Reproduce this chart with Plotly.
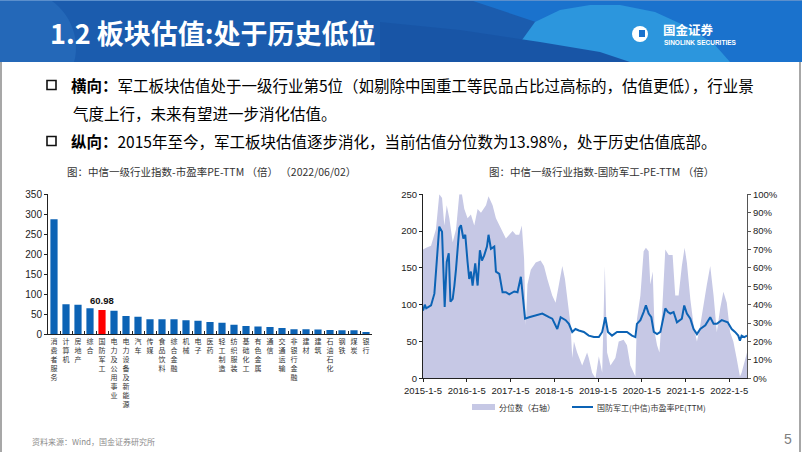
import math
import plotly.graph_objects as go

W, H = 802, 452

# ---- left chart: PE-TTM by industry (2022/06/02)
industries = ["消费者服务", "计算机", "房地产", "综合", "国防军工", "电力及公用事业",
              "电力设备及新能源", "汽车", "传媒", "食品饮料", "综合金融", "机械", "电子",
              "医药", "轻工制造", "纺织服装", "基础化工", "有色金属", "通信", "交通运输",
              "非银行金融", "建材", "建筑", "石油石化", "钢铁", "煤炭", "银行"]
pe_ttm = [287.5, 75, 74, 65, 60.98, 59, 46, 44, 37.5, 37.5, 37.5, 35, 34,
          31, 29, 24, 21, 19.5, 18, 16, 12.8, 12.5, 11.7, 11, 10, 10, 6]
highlight = "国防军工"

# ---- right chart: defence PE history and its percentile
pe_dates = ["2015-01-05", "2015-01-20", "2015-02-01", "2015-02-20", "2015-03-13", "2015-04-10",
            "2015-04-23", "2015-05-21", "2015-06-13", "2015-06-27", "2015-07-05", "2015-07-22",
            "2015-08-08", "2015-08-22", "2015-09-10", "2015-09-24", "2015-10-08", "2015-11-04",
            "2015-11-18", "2015-12-08", "2015-12-24", "2016-01-12", "2016-01-26", "2016-02-09",
            "2016-02-23", "2016-03-16", "2016-04-05", "2016-04-24", "2016-05-11", "2016-05-30",
            "2016-06-22", "2016-07-05", "2016-07-25", "2016-08-22", "2016-09-05", "2016-10-03",
            "2016-10-30", "2016-11-27", "2016-12-25", "2017-02-05", "2017-03-04", "2017-04-01",
            "2017-04-20", "2017-05-06", "2017-06-09", "2017-08-03", "2017-09-27", "2017-11-22",
            "2017-12-19", "2018-01-30", "2018-02-27", "2018-04-10", "2018-05-07", "2018-06-04",
            "2018-07-01", "2018-07-29", "2018-09-09", "2018-10-20", "2018-12-01", "2019-01-12",
            "2019-02-09", "2019-03-07", "2019-03-29", "2019-05-02", "2019-06-13", "2019-07-24",
            "2019-09-04", "2019-10-16", "2019-11-13", "2019-11-26", "2019-12-25", "2020-01-21",
            "2020-02-09", "2020-03-03", "2020-03-25", "2020-04-15", "2020-05-12", "2020-06-09",
            "2020-07-07", "2020-07-20", "2020-08-11", "2020-08-31", "2020-09-27", "2020-10-25",
            "2020-12-05", "2020-12-25", "2021-01-16", "2021-02-14", "2021-03-13", "2021-04-10",
            "2021-05-08", "2021-06-19", "2021-07-30", "2021-08-27", "2021-09-23", "2021-11-03",
            "2021-12-23", "2022-01-25", "2022-02-22", "2022-03-21", "2022-04-04", "2022-04-18",
            "2022-05-10", "2022-06-02"]
pe_values = [92, 100, 95, 97, 99, 115,
             145, 206, 199, 126, 97, 158,
             170, 104, 108, 126, 149, 204,
             208, 190, 195, 158, 135, 145,
             126, 156, 126, 174, 160, 167,
             179, 195, 176, 179, 145, 142,
             117, 117, 114, 118, 117, 138,
             108, 81, 83, 85, 88, 83,
             81, 67, 83, 79, 74, 63,
             67, 65, 63, 58, 56, 56,
             63, 83, 63, 58, 63, 63,
             63, 58, 56, 74, 79, 90,
             99, 88, 83, 63, 60, 63,
             85, 95, 90, 88, 90, 76,
             81, 99, 88, 81, 67, 60,
             67, 72, 83, 74, 74, 79,
             76, 67, 63, 58, 51, 58,
             56, 58]

pct_dates = ["2015-01-05", "2015-02-01", "2015-03-13", "2015-04-23", "2015-05-21", "2015-06-13",
             "2015-07-02", "2015-07-22", "2015-08-13", "2015-09-10", "2015-10-08", "2015-11-04",
             "2015-11-26", "2015-12-16", "2016-01-12", "2016-02-09", "2016-03-08", "2016-04-05",
             "2016-05-03", "2016-06-14", "2016-07-05", "2016-08-08", "2016-09-05", "2016-10-03",
             "2016-10-30", "2016-11-27", "2016-12-25", "2017-01-22", "2017-02-18", "2017-03-18",
             "2017-04-09", "2017-04-28", "2017-05-12", "2017-05-26", "2017-06-23", "2017-08-03",
             "2017-09-13", "2017-10-11", "2017-11-08", "2017-12-05", "2017-12-19", "2018-01-16",
             "2018-02-13", "2018-03-13", "2018-04-04", "2018-04-24", "2018-05-21", "2018-06-04",
             "2018-06-18", "2018-07-15", "2018-08-26", "2018-10-06", "2018-10-20", "2018-11-17",
             "2018-12-15", "2019-01-12", "2019-02-09", "2019-03-03", "2019-03-22", "2019-04-19",
             "2019-05-30", "2019-06-27", "2019-08-07", "2019-09-04", "2019-10-02", "2019-10-30",
             "2019-11-13", "2019-11-26", "2019-12-25", "2020-01-21", "2020-02-09", "2020-03-03",
             "2020-03-17", "2020-04-06", "2020-04-22", "2020-05-12", "2020-06-01", "2020-06-23",
             "2020-07-20", "2020-08-17", "2020-09-19", "2020-10-11", "2020-11-08", "2020-12-05",
             "2020-12-28", "2021-01-16", "2021-02-14", "2021-03-13", "2021-04-10", "2021-05-08",
             "2021-06-05", "2021-07-02", "2021-07-30", "2021-08-27", "2021-09-23", "2021-10-21",
             "2021-11-17", "2021-12-15", "2022-01-12", "2022-02-08", "2022-03-07", "2022-04-04",
             "2022-04-18", "2022-06-02"]
pct_values = [70, 71, 72, 81, 100, 98,
              83, 94, 87, 74, 81, 100,
              100, 92, 87, 89, 83, 92,
              90, 94, 99, 94, 87, 83,
              80, 76, 78, 80, 78, 78,
              83, 65, 29, 51, 59, 63,
              64, 61, 54, 47, 45, 41,
              52, 61, 54, 43, 29, 11,
              20, 14, 7, 14, 11, 3,
              0, 12, 3, 61, 14, 7,
              11, 20, 21, 18, 7, 3,
              1, 32, 45, 69, 71, 69,
              51, 58, 25, 18, 14, 36,
              70, 67, 67, 45, 45, 61,
              71, 63, 43, 29, 20, 29,
              41, 51, 61, 45, 25, 38,
              47, 41, 25, 20, 11, 1,
              3, 13.98]

year_ticks = ["2015-01-05", "2016-01-05", "2017-01-05", "2018-01-05",
              "2019-01-05", "2020-01-05", "2021-01-05", "2022-01-05"]
year_labels = ["2015-1-5", "2016-1-5", "2017-1-5", "2018-1-5",
               "2019-1-5", "2020-1-5", "2021-1-5", "2022-1-5"]

CJK = "Noto Sans CJK SC"
NUM = "Liberation Sans, Arial"
BLUE = "#0c63b5"


def fx(x):
    return x / W


def fy(y):
    return 1 - y / H


def path(points, close=True):
    s = "M " + " L ".join(f"{fx(x):.5f},{fy(y):.5f}" for x, y in points)
    return s + (" Z" if close else "")


def arc_in_band(cx, cy, r, top=0, bottom=62):
    # circle outline clipped to the header band (decoration only)
    pts = []
    for i in range(73):
        a = 2 * math.pi * i / 72
        pts.append((cx + r * math.cos(a), min(max(cy + r * math.sin(a), top), bottom)))
    return pts


fig = go.Figure()

bar_colors = ["#ff0000" if n == highlight else BLUE for n in industries]
fig.add_trace(go.Bar(
    x=industries, y=pe_ttm, marker=dict(color=bar_colors, line_width=0),
    xaxis="x", yaxis="y", showlegend=False
))

fig.add_trace(go.Scatter(
    x=pct_dates, y=pct_values, mode="lines", fill="tozeroy",
    line=dict(width=0, color="#c6c8e5"), fillcolor="#c6c8e5",
    xaxis="x2", yaxis="y2", showlegend=False
))
fig.add_trace(go.Scatter(
    x=pe_dates, y=pe_values, mode="lines",
    line=dict(width=2, color=BLUE),
    xaxis="x2", yaxis="y3", showlegend=False
))

axis_font = dict(family=NUM, size=10, color="#222")
left_y = [fy(334.3), fy(194.3)]
right_y = [fy(378.3), fy(194.3)]

fig.update_layout(
    width=W, height=H,
    margin=dict(l=0, r=0, t=0, b=0, pad=0, autoexpand=False),
    paper_bgcolor="white", plot_bgcolor="rgba(0,0,0,0)",
    showlegend=False,
    bargap=0.4,
    xaxis=dict(
        domain=[fx(48), fx(372)], type="category", range=[-0.5, len(industries) - 0.5],
        tickvals=industries, ticktext=["<br>".join(n) for n in industries], tickangle=0,
        tickfont=dict(family=CJK, size=7, color="#333"),
        showline=True, linecolor="#222", linewidth=1,
        ticks="inside", ticklen=3, tickcolor="#222", tickson="boundaries",
        showgrid=False, zeroline=False, anchor="y", automargin=False
    ),
    yaxis=dict(
        domain=left_y, range=[0, 350], dtick=50, tickfont=axis_font,
        showline=True, linecolor="#222", linewidth=1,
        ticks="outside", ticklen=3, tickcolor="#222",
        showgrid=False, zeroline=False, anchor="x", automargin=False
    ),
    xaxis2=dict(
        domain=[fx(423), fx(747)], type="date", range=["2015-01-05", "2022-06-02"],
        tickvals=year_ticks, ticktext=year_labels, tickangle=0,
        tickfont=dict(family=NUM, size=9.5, color="#222"),
        showline=True, linecolor="#222", linewidth=1,
        ticks="outside", ticklen=3, tickcolor="#222",
        showgrid=False, zeroline=False, anchor="y3", automargin=False
    ),
    yaxis2=dict(
        domain=right_y, range=[0, 100], dtick=10, ticksuffix="%", side="right",
        tickfont=dict(family=NUM, size=9.5, color="#222"),
        showline=True, linecolor="#555", linewidth=1,
        ticks="outside", ticklen=3, tickcolor="#555",
        showgrid=False, zeroline=False, anchor="x2", automargin=False
    ),
    yaxis3=dict(
        range=[0, 250], dtick=50, side="left", overlaying="y2", anchor="x2",
        tickfont=dict(family=NUM, size=9.5, color="#222"),
        showline=True, linecolor="#222", linewidth=1,
        ticks="outside", ticklen=3, tickcolor="#222",
        showgrid=False, zeroline=False, automargin=False
    ),
)

shapes = []
# header band with light swoosh decoration
shapes.append(dict(type="rect", xref="paper", yref="paper", x0=0, x1=1, y0=fy(62), y1=1,
                   fillcolor="#1b5cae", line_width=0, layer="below"))
shapes.append(dict(type="path", xref="paper", yref="paper", layer="below", line_width=0,
                   fillcolor="#2468b8", path=path(arc_in_band(18, 48, 58))))
shapes.append(dict(type="path", xref="paper", yref="paper", layer="below", line_width=0,
                   fillcolor="#1a72cd",
                   path=path([(470, 0), (802, 0), (802, 62), (640, 62), (560, 30)])))
shapes.append(dict(type="path", xref="paper", yref="paper", layer="below", line_width=0,
                   fillcolor="#2c96dd",
                   path=path([(520, 62), (522, 40), (535, 22), (560, 10), (590, 5), (620, 5),
                              (655, 12), (690, 28), (715, 45), (730, 62)])))
shapes.append(dict(type="path", xref="paper", yref="paper", layer="below", line_width=0,
                   fillcolor="#1855a6",
                   path=path([(380, 22), (460, 30), (540, 42), (600, 52), (630, 62), (380, 62)])))
shapes.append(dict(type="line", xref="paper", yref="paper", layer="below", x0=0, x1=1,
                   y0=fy(0.5), y1=fy(0.5), line=dict(color="#5b8fcc", width=1)))
# logo mark
shapes.append(dict(type="circle", xref="paper", yref="paper", x0=fx(632), x1=fx(648),
                   y0=fy(42), y1=fy(26), fillcolor="white", line_width=0))
shapes.append(dict(type="path", xref="paper", yref="paper", line_width=0, fillcolor="#1a72cd",
                   path=path([(639, 30), (645, 30), (645, 37), (639, 37)])))
# slide frame
shapes.append(dict(type="line", xref="paper", yref="paper", x0=fx(1), x1=fx(1), y0=0, y1=fy(62),
                   line=dict(color="#8a8a8a", width=1.5)))
shapes.append(dict(type="line", xref="paper", yref="paper", x0=fx(800), x1=fx(800), y0=0, y1=fy(62),
                   line=dict(color="#8a8a8a", width=1.5)))
# bullet squares
for yc in (85, 141):
    shapes.append(dict(type="rect", xref="paper", yref="paper", x0=fx(47), x1=fx(56),
                       y0=fy(yc + 4.5), y1=fy(yc - 4.5), line=dict(color="#111", width=1.6)))
# right chart legend swatches
shapes.append(dict(type="rect", xref="paper", yref="paper", x0=fx(472), x1=fx(495),
                   y0=fy(410), y1=fy(404), fillcolor="#c6c8e5", line_width=0))
shapes.append(dict(type="line", xref="paper", yref="paper", x0=fx(572), x1=fx(593),
                   y0=fy(407), y1=fy(407), line=dict(color=BLUE, width=2)))

annotations = []


def note(x, y, text, size, color="#222", family=CJK, anchor="left"):
    annotations.append(dict(xref="paper", yref="paper", x=fx(x), y=fy(y), text=text,
                            showarrow=False, xanchor=anchor, yanchor="middle",
                            font=dict(family=family, size=size, color=color)))


note(48, 33, "<b>1.2 板块估值:处于历史低位</b>", 27, "white")
note(661, 29, "<b>国金证券</b>", 12.5, "white")
note(662, 42, "<b>SINOLINK SECURITIES</b>", 6.5, "white", NUM)
note(69, 85, "<b>横向：</b>军工板块估值处于一级行业第5位（如剔除中国重工等民品占比过高标的，估值更低），行业景",
     15.5, "#000")
note(71, 113, "气度上行，未来有望进一步消化估值。", 15.5, "#000")
note(69, 141, "<b>纵向：</b>2015年至今，军工板块估值逐步消化，当前估值分位数为13.98%，处于历史估值底部。",
     15.5, "#000")
note(211, 172, "图：中信一级行业指数-市盈率PE-TTM （倍） （2022/06/02）", 10.5, "#333", anchor="center")
note(601, 172, "图：中信一级行业指数-国防军工-PE-TTM （倍）", 10.5, "#333", anchor="center")
note(497, 407, "分位数（右轴）", 8, "#333")
note(595, 407, "国防军工(中信)市盈率PE(TTM)", 8, "#333")
note(30, 441, "资料来源：Wind，国金证券研究所", 8, "#8c8c8c")
note(788, 439, "5", 14, "#7f7f7f", NUM, "center")

# value label on the highlighted bar
hi = industries.index(highlight)
annotations.append(dict(xref="x", yref="y", x=industries[hi], y=pe_ttm[hi], yanchor="bottom",
                        yshift=2, text=f"<b>{pe_ttm[hi]:.2f}</b>", showarrow=False,
                        font=dict(family=NUM, size=9.5, color="#111")))

fig.update_layout(shapes=shapes, annotations=annotations)
# drop the default 8px page margin so the slide sits at the window origin
fig.write_html("out.html", config={"displayModeBar": False},
               post_script="document.body.style.margin='0';")
